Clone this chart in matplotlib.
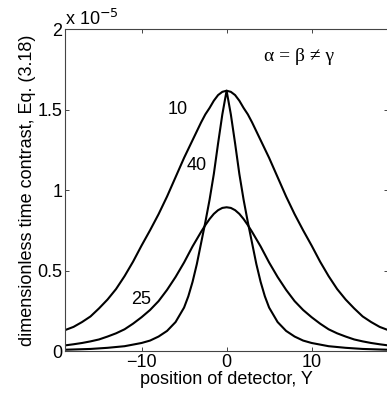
import matplotlib
matplotlib.use('Agg')
import matplotlib.pyplot as plt

plt.rcParams.update({
    'font.family': ['Liberation Sans', 'DejaVu Sans'],
    'font.size': 13,
})

# curve values, in units of 1e-5 (symmetric about Y = 0)
x_10 = [-19, -18, -17, -16, -15, -14, -13, -12, -11, -10, -9, -8, -7, -6, -5, -4, -3, -2.5, -2,
        -1.5, -1, -0.5, 0, 0.5, 1, 1.5, 2, 2.5, 3, 4, 5, 6, 7, 8, 9, 10, 11, 12, 13, 14, 15,
        16, 17, 18, 19]
y_10 = [0.13, 0.15, 0.18, 0.215, 0.265, 0.32, 0.385, 0.465, 0.555, 0.655, 0.75, 0.85, 0.96,
        1.08, 1.20, 1.31, 1.42, 1.47, 1.51,
        1.555, 1.59, 1.61, 1.617, 1.61, 1.59, 1.555,
        1.51, 1.47, 1.42, 1.31, 1.20, 1.08, 0.96, 0.85, 0.75, 0.655, 0.555, 0.465, 0.385,
        0.32, 0.265, 0.215, 0.18, 0.15, 0.13]

x_25 = x_10
y_25 = [0.035, 0.042, 0.05, 0.06, 0.072, 0.09, 0.11, 0.135, 0.17, 0.21, 0.255, 0.31, 0.38,
        0.46, 0.55, 0.65, 0.74, 0.782, 0.82,
        0.852, 0.875, 0.889, 0.893, 0.889, 0.875, 0.852,
        0.82, 0.782, 0.74, 0.65, 0.55, 0.46, 0.38, 0.31, 0.255, 0.21, 0.17, 0.135, 0.11,
        0.09, 0.072, 0.06, 0.05, 0.042, 0.035]

x_40 = [-19, -16, -14, -12, -10, -9, -8, -7, -6, -5, -4.5, -4, -3.5, -3, -2.5, -2, -1.5, -1, -0.5,
        0, 0.5, 1, 1.5, 2, 2.5, 3, 3.5, 4, 4.5, 5, 6, 7, 8, 9, 10, 12, 14, 16, 19]
y_40 = [0.008, 0.013, 0.02, 0.03, 0.05, 0.065, 0.09, 0.125, 0.18, 0.27, 0.34, 0.43, 0.54,
        0.67, 0.80, 0.94, 1.10, 1.29, 1.47,
        1.617,
        1.47, 1.29, 1.10, 0.94, 0.80, 0.67, 0.54, 0.43, 0.34, 0.27, 0.18, 0.125, 0.09,
        0.065, 0.05, 0.03, 0.02, 0.013, 0.008]

xticks = [-10, 0, 10]
yticks = [0, 0.5, 1, 1.5, 2]
ytick_labels = ['0', '0.5', '1', '1.5', '2']

fig = plt.figure(figsize=(3.87, 3.98), dpi=100)
ax = fig.add_axes([0.168, 0.118, 0.835, 0.809])

for xs, ys in [(x_10, y_10), (x_25, y_25), (x_40, y_40)]:
    ax.plot(xs, ys, color='black', lw=1.5)

ax.set_xlim(-19, 19)
ax.set_ylim(0, 2)
ax.set_xticks(xticks)
ax.set_yticks(yticks)
ax.set_yticklabels(ytick_labels)
ax.tick_params(direction='in', length=3, width=0.7, top=True, right=True,
               labelsize=13, pad=2, color='#444444')
for sp in ax.spines.values():
    sp.set_color('#444444')
    sp.set_linewidth(0.8)

ax.set_xlabel('position of detector, Y', fontsize=13, labelpad=0)
ax.set_ylabel('dimensionless time contrast, Eq. (3.18)', fontsize=13, labelpad=1)

ax.text(0.0, 1.0, r'x 10$^{-5}$', transform=ax.transAxes, fontsize=13,
        ha='left', va='bottom')

ax.text(-5.7, 1.5, '10', fontsize=13, ha='center', va='center')
ax.text(-3.5, 1.15, '40', fontsize=13, ha='center', va='center')
ax.text(-10.0, 0.32, '25', fontsize=13, ha='center', va='center')
ax.text(8.5, 1.83, 'α = β ≠ γ', fontsize=14, ha='center', va='center',
        family=['Liberation Serif', 'DejaVu Serif'])

fig.savefig('out.png', dpi=100)
